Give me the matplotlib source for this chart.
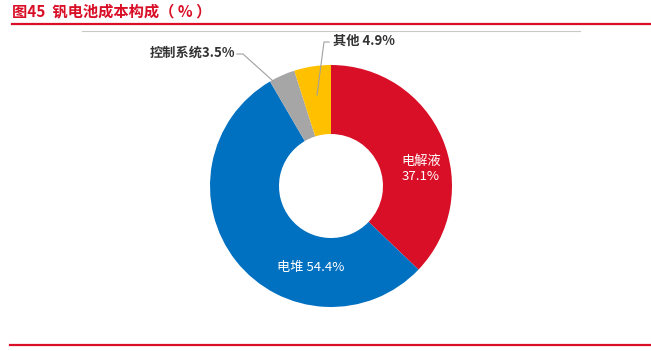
import matplotlib
matplotlib.use("Agg")
import matplotlib.pyplot as plt
import numpy as np
from matplotlib.lines import Line2D

plt.rcParams['font.family'] = ['Noto Sans CJK SC', 'DejaVu Sans']

categories = ['电解液', '电堆', '控制系统', '其他']
values = [37.1, 54.4, 3.5, 4.9]
colors = ['#D90F27', '#0070C0', '#A6A6A6', '#FFC000']
title = '图45  钒电池成本构成（ % ）'

W, H = 651, 351
fig = plt.figure(figsize=(W / 100, H / 100), dpi=100)

def fx(px):
    return px / W

def fy(py):
    return 1 - py / H

# title and rules
fig.text(fx(12), fy(11), title, color='#D90F27', fontsize=11, fontweight='bold',
         va='center', ha='left')
fig.add_artist(Line2D([fx(12), 1], [fy(24), fy(24)], color='#D90F27', lw=1.6))
fig.add_artist(Line2D([fx(82), fx(580)], [fy(30.5), fy(30.5)], color='#C8C8C8', lw=0.8))
fig.add_artist(Line2D([fx(10), 1], [fy(345), fy(345)], color='#D90F27', lw=1.6))

# donut
cx, cy, R, r_in = 331, 186, 121, 52
ax = fig.add_axes([fx(cx - R), fy(cy + R), 2 * R / W, 2 * R / H])
wedges, _ = ax.pie(values, colors=colors, startangle=90, counterclock=False, radius=1,
                   wedgeprops=dict(width=(R - r_in) / R, edgecolor='none'))
ax.set_xlim(-1, 1)
ax.set_ylim(-1, 1)
ax.set_aspect('equal')
ax.axis('off')

# inside labels
fig.text(fx(421), fy(161), categories[0], color='white', fontsize=9.5, ha='center', va='center',
         zorder=5)
fig.text(fx(421), fy(177), f'{values[0]:.1f}%', color='white', fontsize=9.5, ha='center',
         va='center', zorder=5)
fig.text(fx(311), fy(267), f'{categories[1]} {values[1]:.1f}%', color='white', fontsize=9.5,
         ha='center', va='center', zorder=5)

# outside labels with leader lines
fig.add_artist(Line2D([fx(237), fx(243), fx(273)], [fy(54), fy(54), fy(81)],
                      color='#A0A0A0', lw=0.8, zorder=5))
fig.text(fx(235), fy(53), f'{categories[2]}{values[2]:.1f}%', color='#333333', fontsize=9.5,
         fontweight='bold', ha='right', va='center')

fig.add_artist(Line2D([fx(329), fx(324), fx(317)], [fy(42), fy(42), fy(95)],
                      color='#A0A0A0', lw=0.8, zorder=5))
fig.text(fx(333), fy(41), f'{categories[3]} {values[3]:.1f}%', color='#333333', fontsize=9.5,
         fontweight='bold', ha='left', va='center')

fig.savefig('out.png', dpi=100)
